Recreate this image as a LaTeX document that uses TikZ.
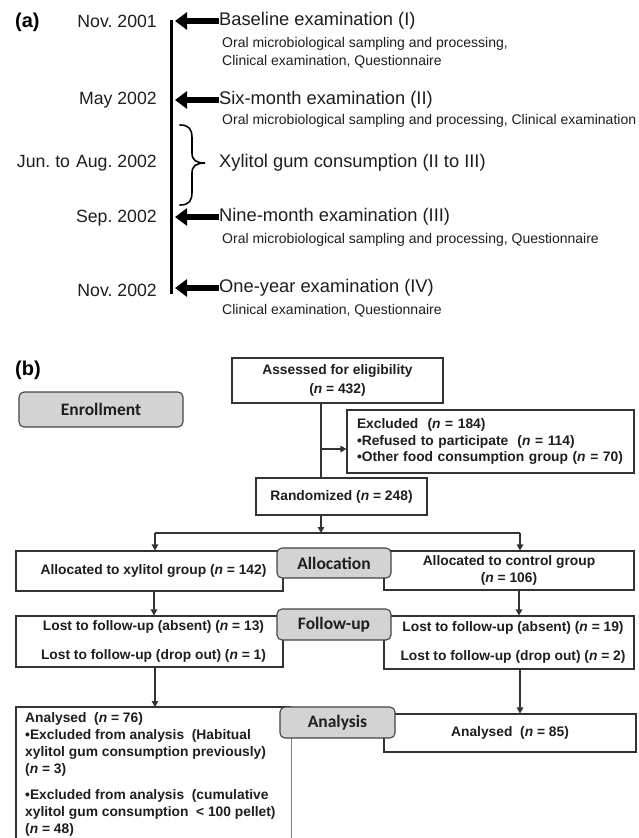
\documentclass[tikz,border=0pt]{standalone}
\usepackage{fontspec}
\setmainfont{Liberation Sans}
\newfontfamily\lblfont{Carlito}
\usetikzlibrary{arrows.meta}
\definecolor{bd}{HTML}{333333}
\definecolor{txt}{HTML}{1E1E1E}
\definecolor{lgray}{HTML}{D3D3D3}
\definecolor{lbd}{HTML}{444444}
\begin{document}
\frenchspacing
\begin{tikzpicture}[x=1pt,y=-1pt,
  datelbl/.style={anchor=east,inner sep=0pt,text=txt,font=\fontsize{17.7}{20}\selectfont},
  evt/.style={anchor=west,inner sep=0pt,text=txt,font=\fontsize{18.3}{21}\selectfont},
  sublbl/.style={anchor=west,inner sep=0pt,align=left,text=txt,font=\fontsize{14}{18}\selectfont},
  bigarrow/.style={line width=6pt,draw=black,-{Triangle[length=12pt,width=17pt]}},
  panel/.style={anchor=west,inner sep=0pt,text=black,font=\bfseries\fontsize{20}{22}\selectfont},
  flowbox/.style={draw=bd,line width=1.1pt,inner sep=0pt,text=txt,fill=white,
    font=\bfseries\fontsize{13.8}{17}\selectfont},
  lblbox/.style={draw=lbd,fill=lgray,line width=1.1pt,rounded corners=5pt,inner sep=0pt,
    text=txt,font=\lblfont\bfseries\fontsize{17.5}{20}\selectfont},
  conn/.style={draw=bd,line width=1.2pt},
  arr/.style={conn,-{Triangle[length=6pt,width=6.5pt]}}
]
\useasboundingbox (0,0) rectangle (638,838);
\fill[white] (0,0) rectangle (638,838);

% ---------------- (a) ----------------
\node[panel] (pa) at (15,22) {(a)};
\node[datelbl] (d1) at (157,21) {Nov. 2001};
\node[datelbl] (d2) at (157,100) {May 2002};
\node[datelbl] (d3) at (157,163) {Jun. to\hspace{6pt}Aug. 2002};
\node[datelbl] (d4) at (157,218) {Sep. 2002};
\node[datelbl] (d5) at (157,290) {Nov. 2002};

\coordinate (tTop) at (171,20);
\coordinate (tBot) at (171,294);
\draw[line width=3pt] (tTop) -- (tBot);
\coordinate (tipx) at (175,0);

\node[evt] (e1) at (219,21) {Baseline examination (I)};
\node[sublbl] (s1) at (222,53) {Oral microbiological sampling and processing,\\Clinical examination, Questionnaire};
\node[evt] (e2) at (219,100) {Six-month examination (II)};
\node[sublbl] (s2) at (222,121) {Oral microbiological sampling and processing, Clinical examination};
\node[evt] (e3) at (219,163) {Xylitol gum consumption (II to III)};
\node[evt] (e4) at (219,217) {Nine-month examination (III)};
\node[sublbl] (s4) at (222,240) {Oral microbiological sampling and processing, Questionnaire};
\node[evt] (e5) at (219,288) {One-year examination (IV)};
\node[sublbl] (s5) at (222,311) {Clinical examination, Questionnaire};

\draw[bigarrow] (e1.west) -- (e1.west -| tipx);
\draw[bigarrow] (e2.west) -- (e2.west -| tipx);
\draw[bigarrow] (e4.west) -- (e4.west -| tipx);
\draw[bigarrow] (e5.west) -- (e5.west -| tipx);

\draw[line width=1.6pt,line cap=round] (180,125) .. controls (189,125) and (192,129) .. (192,138)
  -- (192,153) .. controls (192,160) and (196,163) .. (205,163)
  .. controls (196,163) and (192,166) .. (192,173)
  -- (192,192) .. controls (192,201) and (189,205) .. (180,205);

% ---------------- (b) ----------------
\node[panel] (pb) at (15,370) {(b)};

\node[flowbox,minimum width=211pt,minimum height=45pt,align=center,
  font=\bfseries\fontsize{13.8}{19}\selectfont] (assess) at (337.5,380.5)
  {Assessed for eligibility\\(\textit{n} = 432)};
\node[flowbox,minimum height=63pt,text width=267pt,inner xsep=10pt,align=left,
  font=\bfseries\fontsize{13.8}{16.5}\selectfont] (excl) at (490.5,441.5)
  {Excluded~ (\textit{n} = 184)\\•Refused to participate~ (\textit{n} = 114)\\•Other food consumption group (\textit{n} = 70)};
\node[flowbox,minimum width=171pt,minimum height=37pt] (rand) at (341.5,496.5)
  {Randomized (\textit{n} = 248)};
\node[flowbox,minimum width=267pt,minimum height=40pt] (xyl) at (149.5,571)
  {\hspace{8pt}Allocated to xylitol group (\textit{n} = 142)};
\node[flowbox,minimum width=250pt,minimum height=39pt,align=center,
  font=\bfseries\fontsize{13.8}{17}\selectfont] (ctrl) at (509,570.5)
  {Allocated to control group\\(\textit{n} = 106)};
\node[flowbox,minimum width=267pt,minimum height=51pt,align=center,
  font=\bfseries\fontsize{13.8}{29}\selectfont] (fuL) at (149.5,641.5)
  {\hspace{8pt}Lost to follow-up (absent) (\textit{n} = 13)\\\hspace{8pt}Lost to follow-up (drop out) (\textit{n} = 1)};
\node[flowbox,minimum width=250pt,minimum height=53pt,align=center,
  font=\bfseries\fontsize{13.8}{29}\selectfont] (fuR) at (509,642.5)
  {\hspace{8pt}Lost to follow-up (absent) (\textit{n} = 19)\\\hspace{8pt}Lost to follow-up (drop out) (\textit{n} = 2)};
\node[flowbox,minimum width=252pt,minimum height=38pt] (anR) at (510,733)
  {Analysed~ (\textit{n} = 85)};

\coordinate (anLbl) at (16,840);
\coordinate (anLtl) at (16,707);
\coordinate (anLtr) at (291,707);
\coordinate (anLbr) at (291,840);
\draw[draw=bd,line width=1.1pt] (anLbl) -- (anLtl) -- (anLtr);
\draw[draw=gray,line width=0.8pt] (anLtr) -- (anLbr);
\node[anchor=north west,inner sep=0pt,align=left,text=txt,
  font=\bfseries\fontsize{13.8}{17}\selectfont] (anLtxt) at (25,712)
  {Analysed~ (\textit{n} = 76)\\
   •Excluded from analysis~ (Habitual\\
   xylitol gum consumption previously)\\
   (\textit{n} = 3)\\[9pt]
   •Excluded from analysis~ (cumulative\\
   xylitol gum consumption~ < 100 pellet)\\
   (\textit{n} = 48)};

% connectors
\coordinate (spine) at (321,0);
\coordinate (exclY) at (0,449);
\draw[conn] (assess.south -| spine) -- (rand.north -| spine);
\draw[arr] (spine |- exclY) -- (excl.west |- exclY);
\coordinate (split) at (321,533);
\coordinate (splitL) at (155,533);
\coordinate (splitR) at (520,533);
\draw[arr] (rand.south -| spine) -- (split);
\draw[conn] (splitL) -- (splitR);
\draw[arr] (splitL) -- (xyl.north -| splitL);
\draw[arr] (splitR) -- (ctrl.north -| splitR);
\coordinate (cL1) at (154,0);
\coordinate (cR1) at (519,0);
\draw[arr] (xyl.south -| cL1) -- (fuL.north -| cL1);
\draw[arr] (ctrl.south -| cR1) -- (fuR.north -| cR1);
\draw[arr] (fuL.south -| splitL) -- (anLtl -| splitL);
\draw[arr] (fuR.south -| splitR) -- (anR.north -| splitR);

% phase labels (on top)
\node[lblbox,minimum width=164pt,minimum height=35pt] (enroll) at (101,409.5) {Enrollment};
\node[lblbox,minimum width=114pt,minimum height=30pt] (alloc) at (334,563) {Allocation};
\node[lblbox,minimum width=114pt,minimum height=31pt] (follow) at (334,624.5) {Follow-up};
\node[lblbox,minimum width=115pt,minimum height=31pt] (analysis) at (337.5,722.5) {Analysis};
\end{tikzpicture}
\end{document}
